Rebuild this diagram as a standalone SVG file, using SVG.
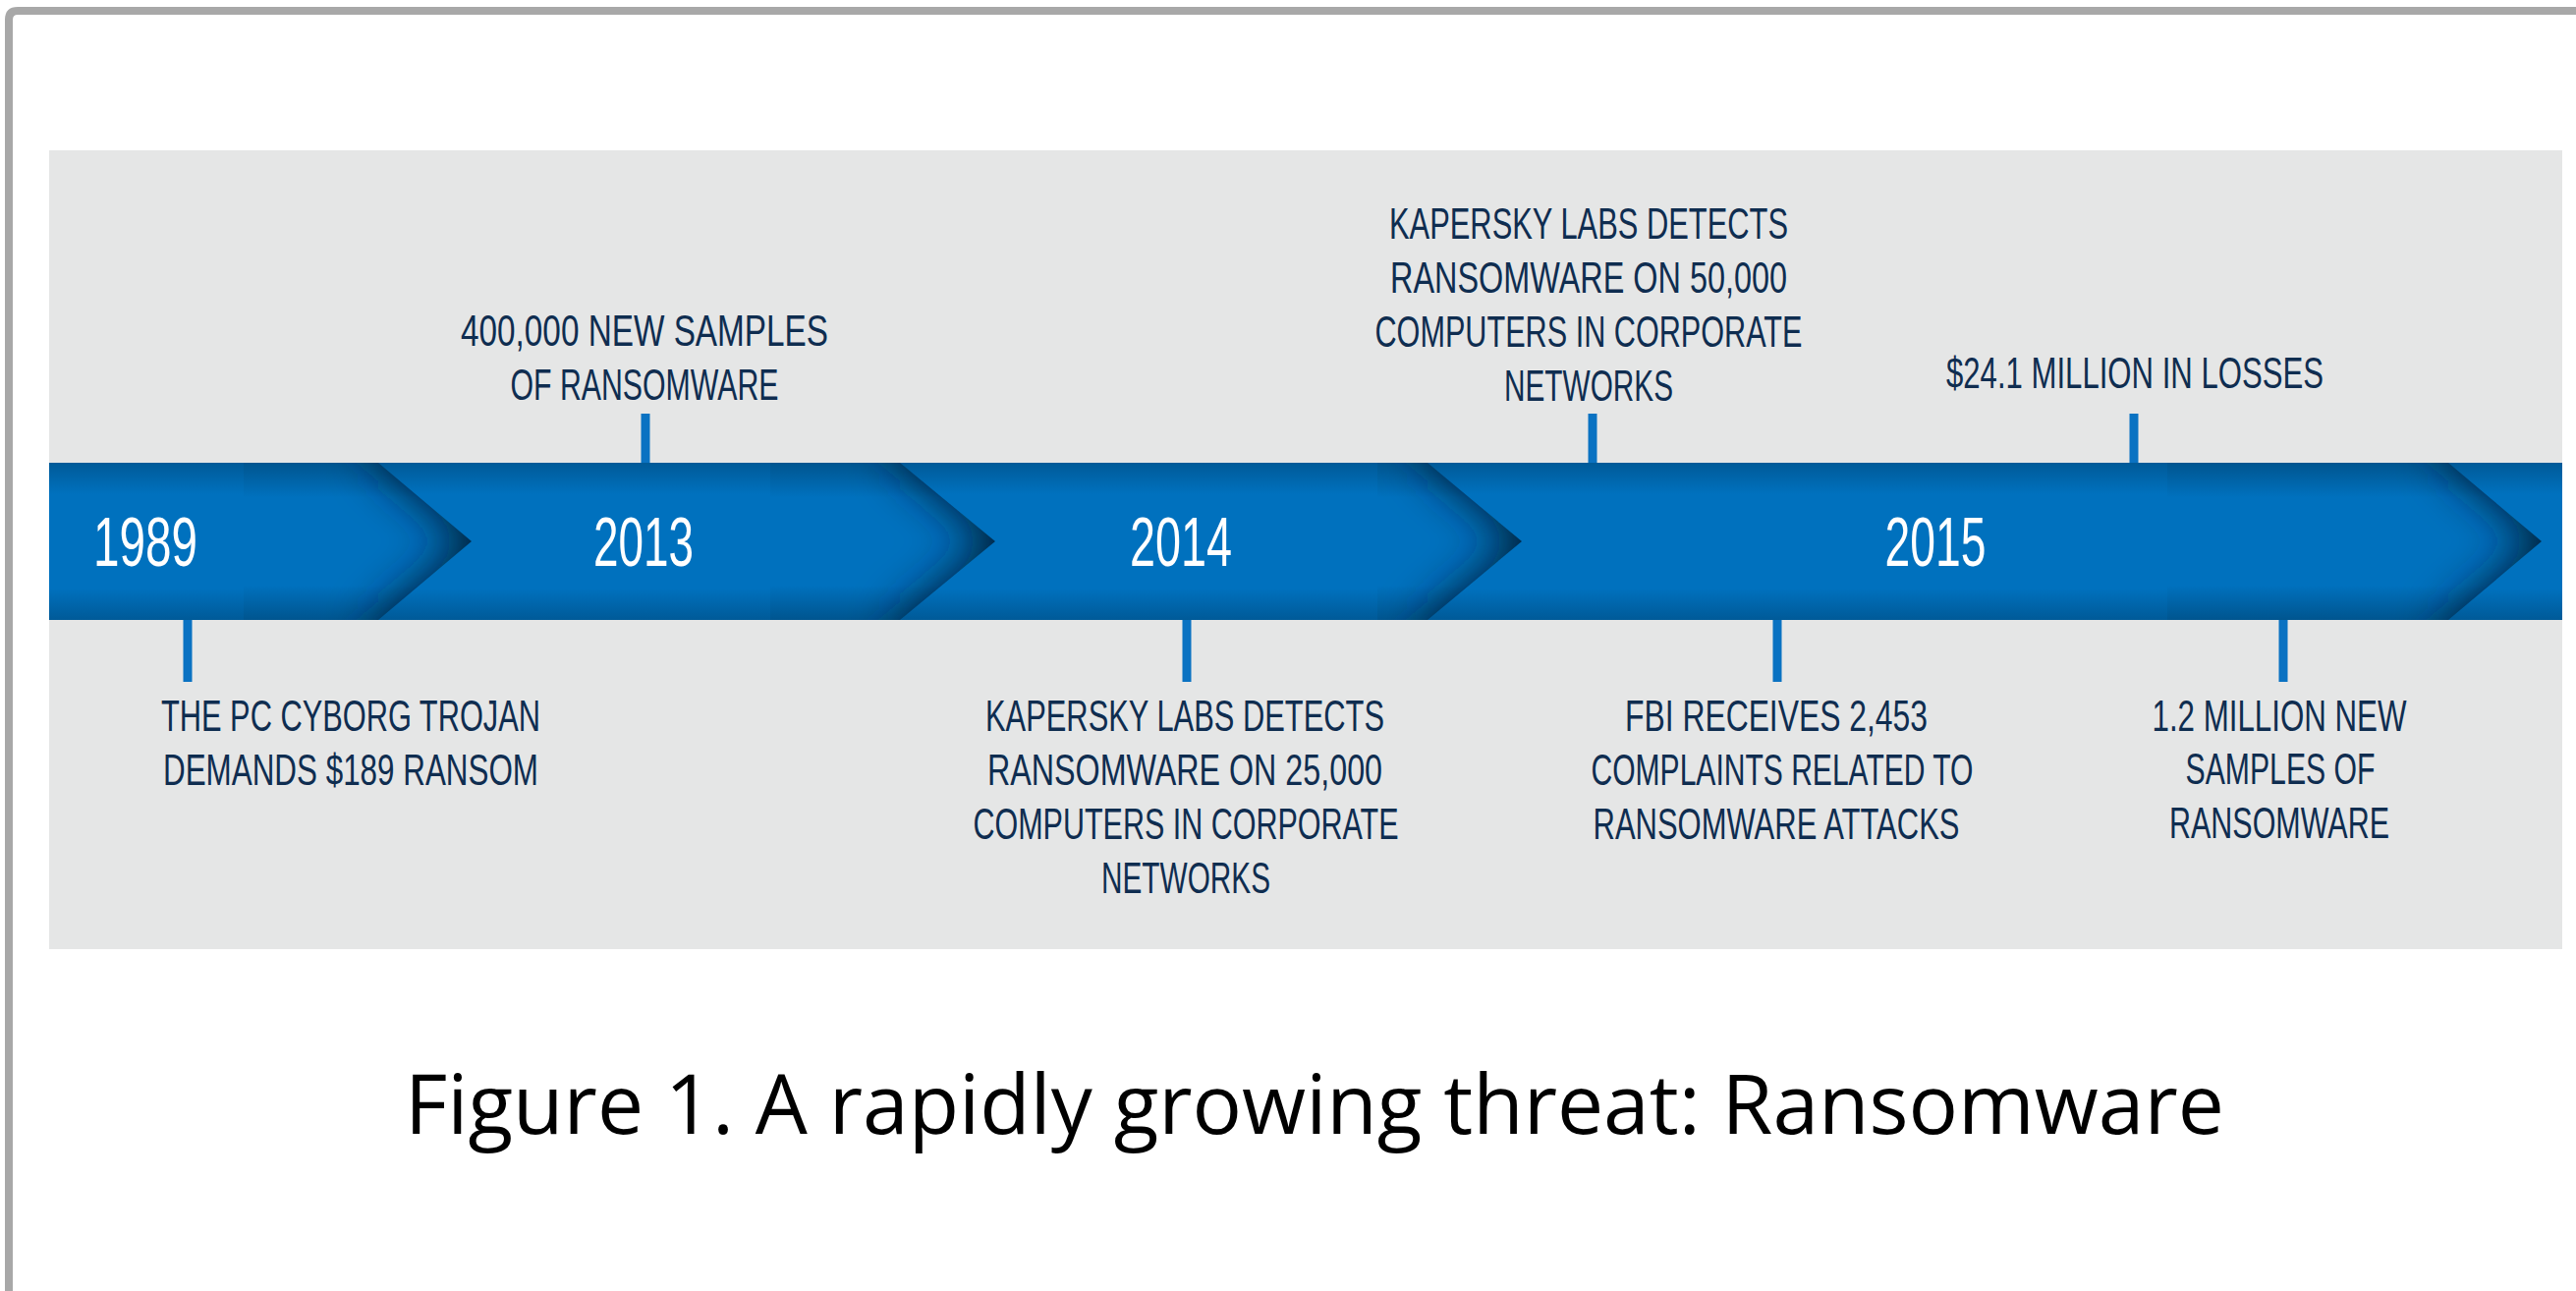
<svg xmlns="http://www.w3.org/2000/svg" width="2622" height="1314" viewBox="0 0 2622 1314">
<style>
.lbl{font-family:"Liberation Sans Narrow","Liberation Sans",Arial,sans-serif;font-size:45px;fill:#0f2d50;text-anchor:middle}
.yr{font-family:"Liberation Sans Narrow","Liberation Sans",Arial,sans-serif;font-size:70px;fill:#ffffff;text-anchor:middle}
.cap{font-family:"Open Sans","Liberation Sans",sans-serif;font-size:85px;fill:#000000;text-anchor:middle}
.tick{fill:#0a72c2}
.shadow{fill:#001a33}
</style>
<defs>
<linearGradient id="bandGrad" x1="0" y1="0" x2="0" y2="1">
<stop offset="0" stop-color="#005a98"/>
<stop offset="0.2" stop-color="#0071be"/>
<stop offset="0.8" stop-color="#0071be"/>
<stop offset="1" stop-color="#005a98"/>
</linearGradient>
<linearGradient id="arrowGrad" x1="0" y1="0" x2="0" y2="1">
<stop offset="0" stop-color="#00558f"/>
<stop offset="0.22" stop-color="#0071be"/>
<stop offset="0.78" stop-color="#0071be"/>
<stop offset="1" stop-color="#00558f"/>
</linearGradient>
<filter id="blur" x="-50%" y="-50%" width="200%" height="200%">
<feGaussianBlur stdDeviation="24"/>
</filter>
<clipPath id="clipA1"><polygon points="248,471 385,471 480,551 385,631 248,631"/></clipPath>
<clipPath id="clipA2"><polygon points="784,471 916,471 1013,551 916,631 784,631"/></clipPath>
<clipPath id="clipA3"><polygon points="1402,471 1453,471 1549,551 1453,631 1402,631"/></clipPath>
<clipPath id="clipA4"><polygon points="2206,471 2492,471 2587,551 2492,631 2206,631"/></clipPath>
</defs>

<rect x="0" y="0" width="2622" height="1314" fill="#ffffff"/>
<path d="M9 1314 V20 Q9 11 18 11 H2622" fill="none" stroke="#a8a8a8" stroke-width="8"/>
<rect x="50" y="153" width="2558" height="813" fill="#e5e6e6"/>

<g id="timeline">
<rect x="50" y="471" width="2558" height="160" fill="url(#bandGrad)"/>
<g id="arrow1">
<polygon points="248,471 385,471 480,551 385,631 248,631" fill="url(#arrowGrad)"/>
<g clip-path="url(#clipA1)"><polygon class="shadow" filter="url(#blur)" points="385,371 700,371 700,731 385,731 385,631 480,551 385,471"/></g>
</g>
<g id="arrow2">
<polygon points="784,471 916,471 1013,551 916,631 784,631" fill="url(#arrowGrad)"/>
<g clip-path="url(#clipA2)"><polygon class="shadow" filter="url(#blur)" points="916,371 1230,371 1230,731 916,731 916,631 1013,551 916,471"/></g>
</g>
<g id="arrow3">
<polygon points="1402,471 1453,471 1549,551 1453,631 1402,631" fill="url(#arrowGrad)"/>
<g clip-path="url(#clipA3)"><polygon class="shadow" filter="url(#blur)" points="1453,371 1770,371 1770,731 1453,731 1453,631 1549,551 1453,471"/></g>
</g>
<g id="arrow4">
<polygon points="2206,471 2492,471 2587,551 2492,631 2206,631" fill="url(#arrowGrad)"/>
<g clip-path="url(#clipA4)"><polygon class="shadow" filter="url(#blur)" points="2492,371 2800,371 2800,731 2492,731 2492,631 2587,551 2492,471"/></g>
</g>
<text class="yr" x="148" y="576" textLength="106" lengthAdjust="spacingAndGlyphs">1989</text>
<text class="yr" x="655" y="576" textLength="102" lengthAdjust="spacingAndGlyphs">2013</text>
<text class="yr" x="1202" y="576" textLength="104" lengthAdjust="spacingAndGlyphs">2014</text>
<text class="yr" x="1970" y="576" textLength="103" lengthAdjust="spacingAndGlyphs">2015</text>
</g>

<g id="connectors">
<rect class="tick" x="652.5" y="421" width="9" height="50"/>
<rect class="tick" x="1616.5" y="421" width="9" height="50"/>
<rect class="tick" x="2167.5" y="421" width="9" height="50"/>
<rect class="tick" x="186.5" y="631" width="9" height="63"/>
<rect class="tick" x="1203.5" y="631" width="9" height="63"/>
<rect class="tick" x="1804.5" y="631" width="9" height="63"/>
<rect class="tick" x="2319.5" y="631" width="9" height="63"/>
</g>

<g id="event-1989">
<text class="lbl" x="357" y="744" textLength="386" lengthAdjust="spacingAndGlyphs">THE PC CYBORG TROJAN</text>
<text class="lbl" x="357" y="799" textLength="382" lengthAdjust="spacingAndGlyphs">DEMANDS $189 RANSOM</text>
</g>
<g id="event-2013">
<text class="lbl" x="656" y="352" textLength="374" lengthAdjust="spacingAndGlyphs">400,000 NEW SAMPLES</text>
<text class="lbl" x="656" y="407" textLength="273" lengthAdjust="spacingAndGlyphs">OF RANSOMWARE</text>
</g>
<g id="event-2014">
<text class="lbl" x="1206" y="744" textLength="406" lengthAdjust="spacingAndGlyphs">KAPERSKY LABS DETECTS</text>
<text class="lbl" x="1206" y="799" textLength="402" lengthAdjust="spacingAndGlyphs">RANSOMWARE ON 25,000</text>
<text class="lbl" x="1207" y="854" textLength="433" lengthAdjust="spacingAndGlyphs">COMPUTERS IN CORPORATE</text>
<text class="lbl" x="1207" y="909" textLength="172" lengthAdjust="spacingAndGlyphs">NETWORKS</text>
</g>
<g id="event-2015-kapersky">
<text class="lbl" x="1617" y="243" textLength="406" lengthAdjust="spacingAndGlyphs">KAPERSKY LABS DETECTS</text>
<text class="lbl" x="1617" y="298" textLength="404" lengthAdjust="spacingAndGlyphs">RANSOMWARE ON 50,000</text>
<text class="lbl" x="1617" y="353" textLength="435" lengthAdjust="spacingAndGlyphs">COMPUTERS IN CORPORATE</text>
<text class="lbl" x="1617" y="408" textLength="172" lengthAdjust="spacingAndGlyphs">NETWORKS</text>
</g>
<g id="event-2015-fbi">
<text class="lbl" x="1808" y="744" textLength="308" lengthAdjust="spacingAndGlyphs">FBI RECEIVES 2,453</text>
<text class="lbl" x="1814" y="799" textLength="389" lengthAdjust="spacingAndGlyphs">COMPLAINTS RELATED TO</text>
<text class="lbl" x="1808" y="854" textLength="373" lengthAdjust="spacingAndGlyphs">RANSOMWARE ATTACKS</text>
</g>
<g id="event-2015-losses">
<text class="lbl" x="2173" y="395" textLength="384" lengthAdjust="spacingAndGlyphs">$24.1 MILLION IN LOSSES</text>
</g>
<g id="event-2015-samples">
<text class="lbl" x="2320" y="744" textLength="259" lengthAdjust="spacingAndGlyphs">1.2 MILLION NEW</text>
<text class="lbl" x="2321" y="798" textLength="193" lengthAdjust="spacingAndGlyphs">SAMPLES OF</text>
<text class="lbl" x="2320" y="853" textLength="224" lengthAdjust="spacingAndGlyphs">RANSOMWARE</text>
</g>

<text class="cap" x="1338" y="1154" textLength="1852" lengthAdjust="spacingAndGlyphs">Figure 1. A rapidly growing threat: Ransomware</text>
</svg>
